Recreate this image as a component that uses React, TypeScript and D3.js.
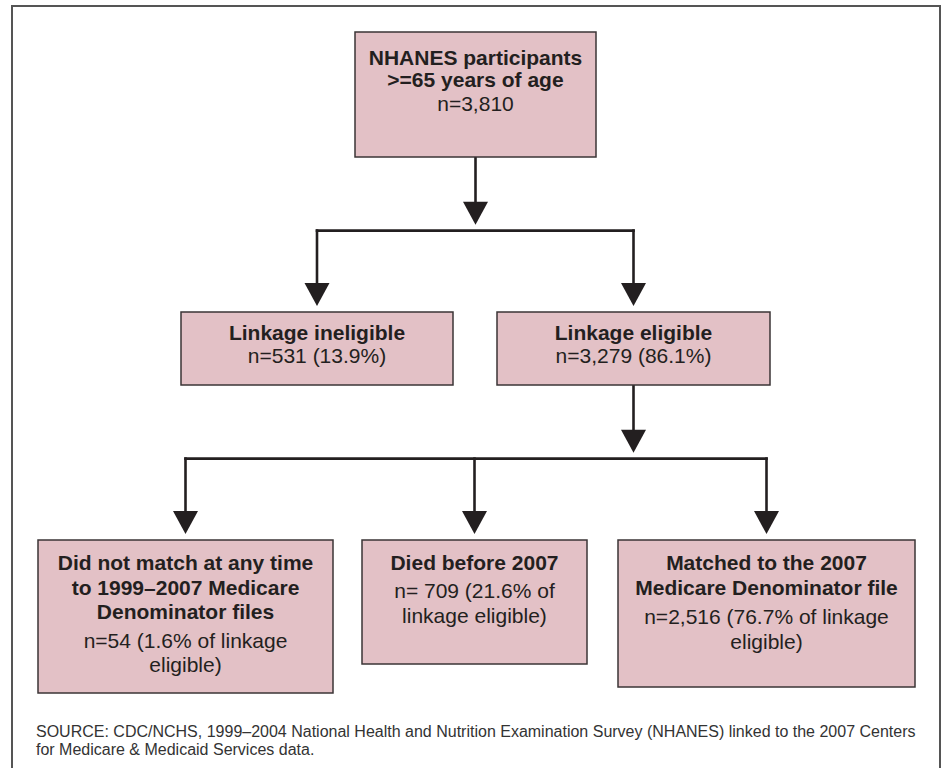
import React from "react"
import * as d3 from "d3"

// flowchart content
const boxIds = ["root", "inel", "elig", "nomatch", "died", "matched"]
const boxParents = [null, "root", "root", "elig", "elig", "elig"]
const boxTitles = [
  ["NHANES participants", ">=65 years of age"],
  ["Linkage ineligible"],
  ["Linkage eligible"],
  ["Did not match at any time", "to 1999\u20132007 Medicare", "Denominator files"],
  ["Died before 2007"],
  ["Matched to the 2007", "Medicare Denominator file"],
]
const boxCounts = [
  ["n=3,810"],
  ["n=531 (13.9%)"],
  ["n=3,279 (86.1%)"],
  ["n=54 (1.6% of linkage", "eligible)"],
  ["n= 709 (21.6% of", "linkage eligible)"],
  ["n=2,516 (76.7% of linkage", "eligible)"],
]
const sourceLines = [
  "SOURCE: CDC/NCHS, 1999\u20132004 National Health and Nutrition Examination Survey (NHANES) linked to the 2007 Centers",
  "for Medicare & Medicaid Services data.",
]

// layout (pixels)
const layout = {
  root: { x0: 355, x1: 596, y0: 32, y1: 157, pad: 33, step: 22, gap: 2 },
  inel: { x0: 181, x1: 453, y0: 312, y1: 385, pad: 28, step: 23, gap: 0 },
  elig: { x0: 497, x1: 770, y0: 312, y1: 385, pad: 28, step: 23, gap: 0 },
  nomatch: { x0: 38, x1: 333, y0: 540, y1: 693, pad: 30, step: 24.5, gap: 4 },
  died: { x0: 362, x1: 587, y0: 540, y1: 664, pad: 30, step: 25, gap: 3 },
  matched: { x0: 618, x1: 915, y0: 540, y1: 687, pad: 30, step: 25, gap: 4 },
}

const W = 947
const H = 768
const font = "'Liberation Sans', Arial, Helvetica, sans-serif"
const ink = "#231f20"
const fill = "#e3c1c6"

function Box({ i }) {
  const id = boxIds[i]
  const b = layout[id]
  const cx = (b.x0 + b.x1) / 2
  const lines = boxTitles[i]
    .map((t) => ({ t, bold: true }))
    .concat(boxCounts[i].map((t) => ({ t, bold: false })))
  return (
    <g>
      <rect
        x={b.x0}
        y={b.y0}
        width={b.x1 - b.x0}
        height={b.y1 - b.y0}
        fill={fill}
        stroke="#3b3536"
        strokeWidth={1.5}
      />
      {lines.map((l, k) => (
        <text
          key={k}
          x={cx}
          y={b.y0 + b.pad + k * b.step + (l.bold ? 0 : b.gap)}
          textAnchor="middle"
          fontFamily={font}
          fontSize={21}
          fontWeight={l.bold ? "bold" : "normal"}
          fill={ink}
        >
          {l.t}
        </text>
      ))}
    </g>
  )
}

function Connectors() {
  const parents = Array.from(new Set(boxParents.filter((p) => p)))
  const headW = 25
  const headH = 23
  const gapToTarget = 6
  const segs = []
  const heads = []
  parents.forEach((pid) => {
    const p = layout[pid]
    const kids = boxIds.filter((_, i) => boxParents[i] === pid).map((k) => layout[k])
    const px = (p.x0 + p.x1) / 2
    const childTop = d3.min(kids, (k) => k.y0)
    const busY = p.y1 + (childTop - p.y1) * 0.475
    const kx = kids.map((k) => (k.x0 + k.x1) / 2)
    // parent down to bus
    segs.push([[px, p.y1], [px, busY - gapToTarget - headH + 2]])
    heads.push([px, busY - gapToTarget])
    // bus
    segs.push([[d3.min(kx), busY], [d3.max(kx), busY]])
    kids.forEach((k, j) => {
      segs.push([[kx[j], busY], [kx[j], k.y0 - gapToTarget - headH + 2]])
      heads.push([kx[j], k.y0 - gapToTarget])
    })
  })
  const line = d3.line()
  return (
    <g>
      {segs.map((s, i) => (
        <path key={"s" + i} d={line(s)} stroke={ink} strokeWidth={2.6} fill="none" strokeLinecap="square" />
      ))}
      {heads.map(([x, y], i) => (
        <path
          key={"h" + i}
          d={line([[x - headW / 2, y - headH], [x + headW / 2, y - headH], [x, y]]) + "Z"}
          fill={ink}
        />
      ))}
    </g>
  )
}

export default function App() {
  return (
    <svg
      width={W}
      height={H}
      style={{ position: "absolute", left: 0, top: 0, background: "#fff" }}
    >
      <rect x={12} y={6} width={928} height={800} fill="none" stroke="#555" strokeWidth={2} />
      <Connectors />
      {boxIds.map((_, i) => (
        <Box key={i} i={i} />
      ))}
      {sourceLines.map((s, i) => (
        <text key={i} x={36} y={737 + i * 18} fontFamily={font} fontSize={16} fill="#333">
          {s}
        </text>
      ))}
    </svg>
  )
}
